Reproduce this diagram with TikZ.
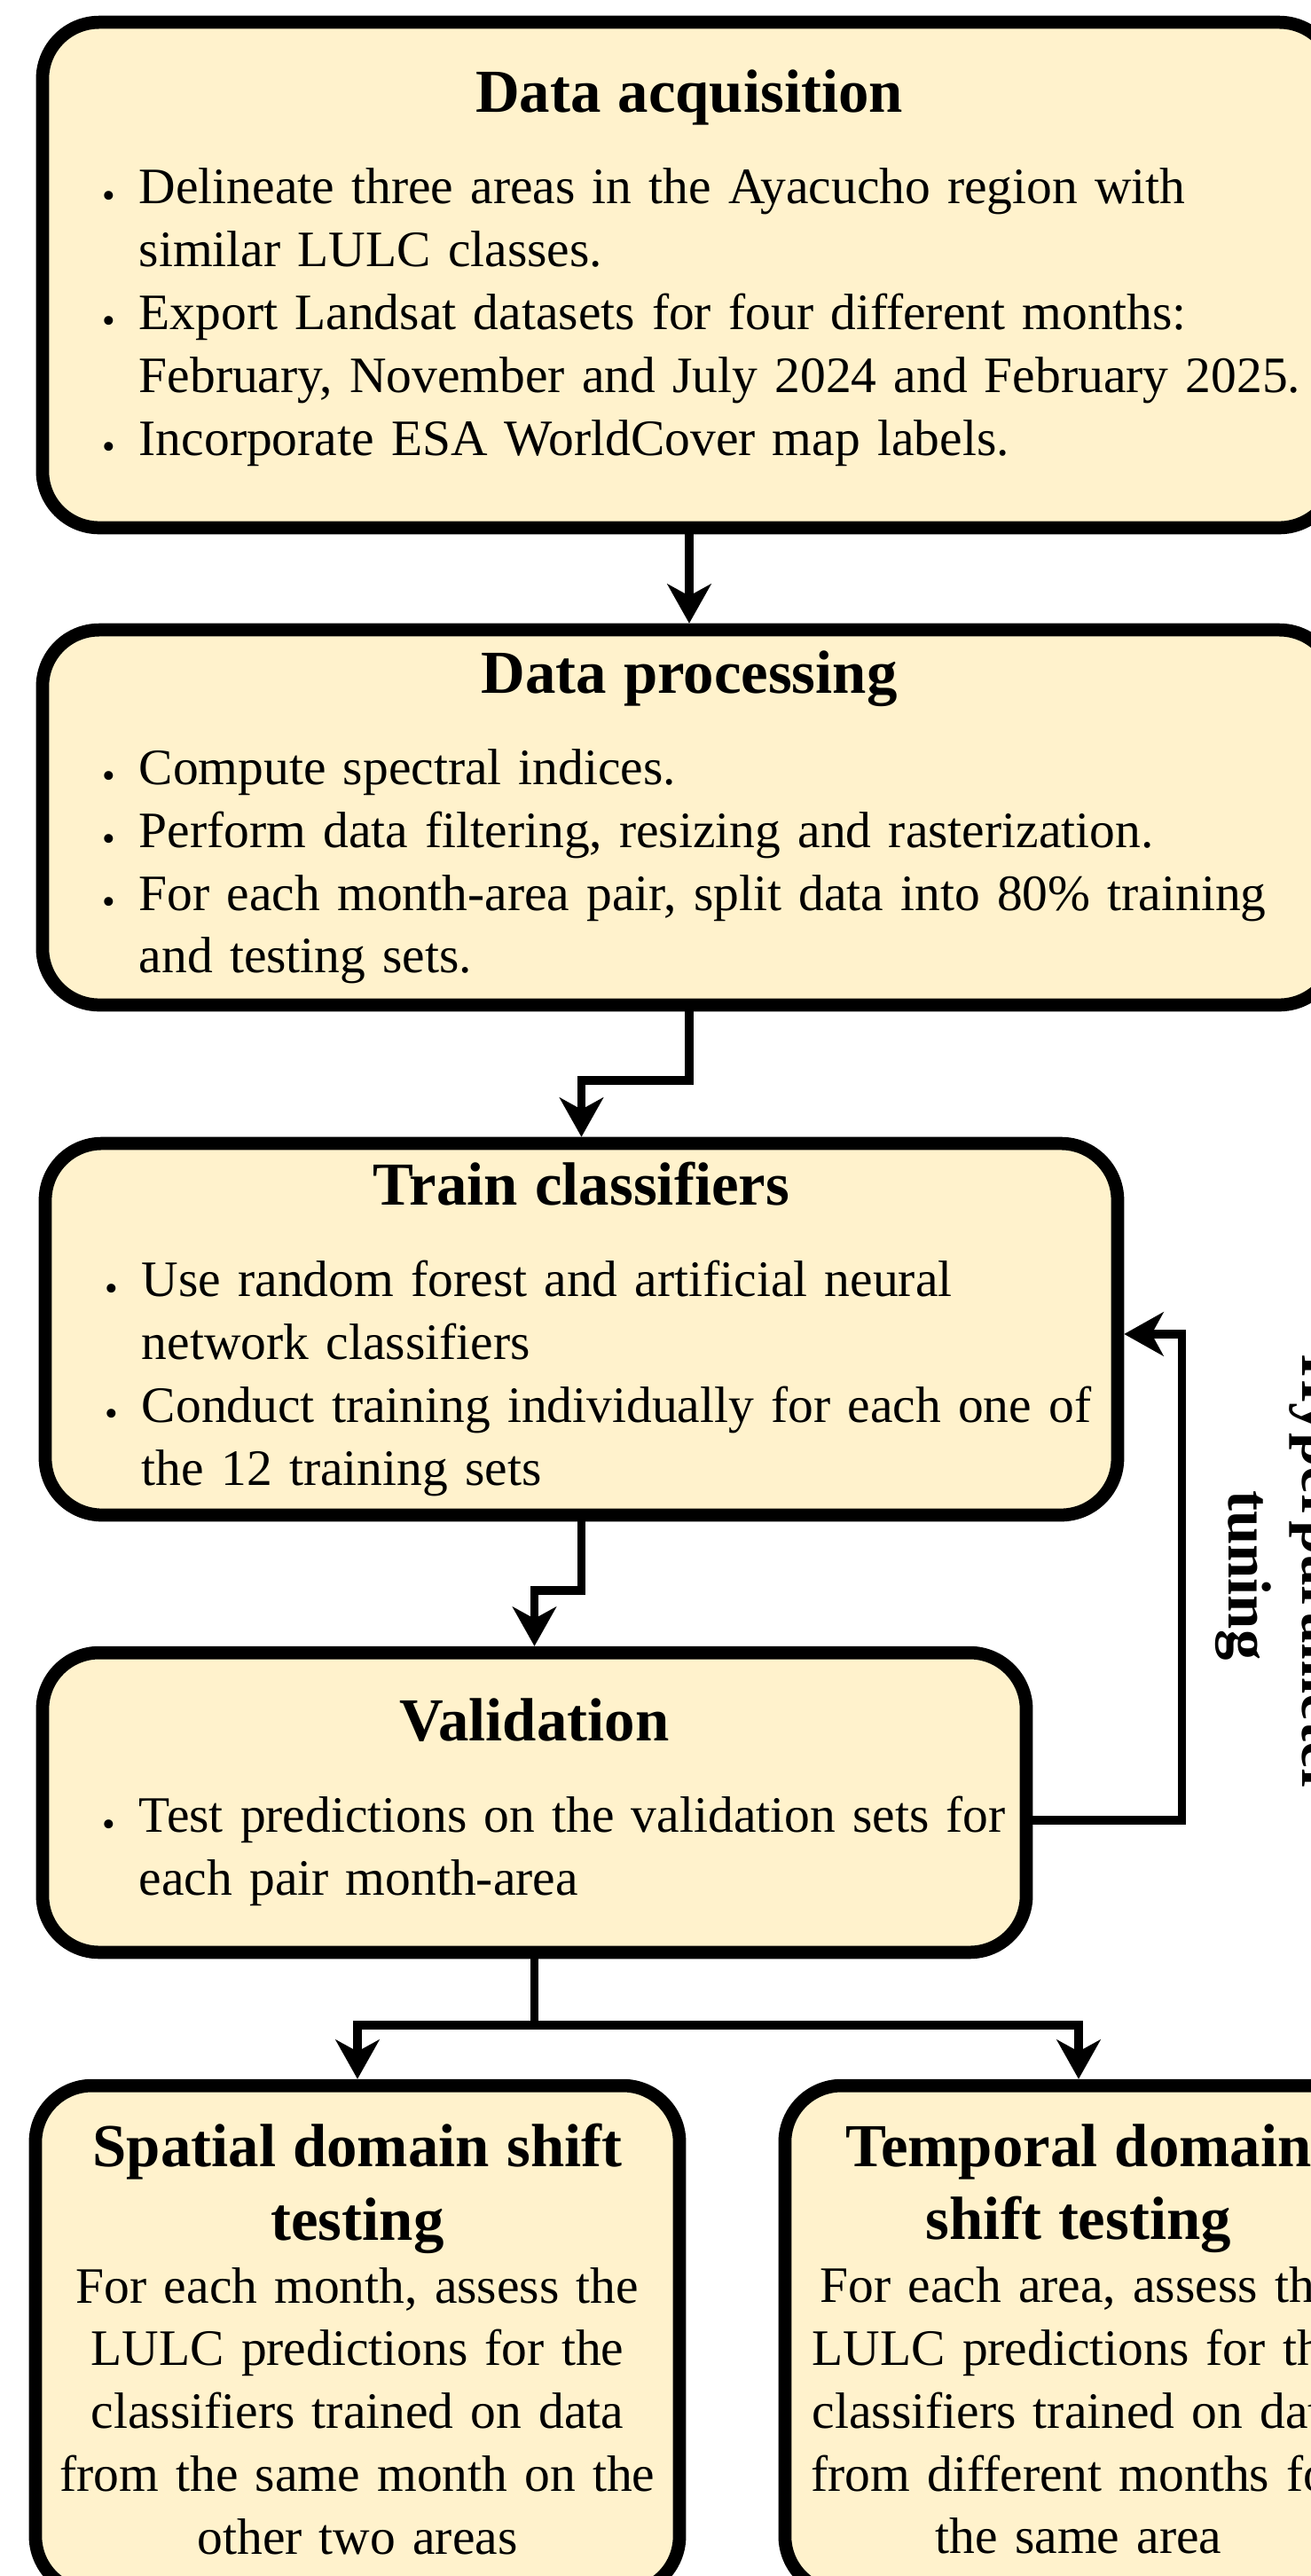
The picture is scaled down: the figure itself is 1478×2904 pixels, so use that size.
\documentclass[tikz,border=0pt]{standalone}
\usepackage{fontspec}
\setmainfont{Liberation Serif}
\usepackage{xcolor}
\usetikzlibrary{arrows.meta}

\setlength{\parindent}{0pt}
\definecolor{boxfill}{HTML}{FFF2CC}

% box title and bullet lines
\newcommand{\boxtitle}[1]{{\centering\fontsize{14}{16.8}\selectfont\bfseries #1\par}}
\newcommand{\bitem}[1]{\par\noindent\mbox{\makebox[8.95pt][l]{\hspace{0.6pt}\raisebox{-0.9pt}{\fontsize{8.5}{8.5}\selectfont\textbullet}}#1}}
\newcommand{\bcont}[1]{\par\noindent\mbox{\hspace*{8.95pt}#1}}
\newcommand{\padbottom}[1]{\par\vspace{#1}\nointerlineskip\hbox{}}

\begin{document}
\begin{tikzpicture}[x=0.2034pt,y=-0.2034pt,
    stage/.style={draw,line width=3pt,rounded corners=13pt,fill=boxfill,
        inner xsep=13.2pt,inner ysep=0pt,font=\fontsize{11.7}{14.4}\selectfont},
    conn/.style={line width=2pt,-{Stealth[length=9pt,width=10pt,inset=2.7pt]}}]
    \useasboundingbox (0,0) rectangle (1478,2904);

    % Draw the stages
    \node[stage,text width=270.2pt,minimum height=115.9pt] (acq) at (777,310) {%
        \boxtitle{Data acquisition}\vspace{6.55pt}
        \bitem{Delineate three areas in the Ayacucho region with}
        \bcont{similar LULC classes.}
        \bitem{Export Landsat datasets for four different months:}
        \bcont{February, November and July 2024 and February 2025.}
        \bitem{Incorporate ESA WorldCover map labels.}
        \padbottom{3.2pt}};

    \node[stage,text width=270.2pt,minimum height=86pt] (proc) at (777,921.5) {%
        \boxtitle{Data processing}\vspace{6.55pt}
        \bitem{Compute spectral indices.}
        \bitem{Perform data filtering, resizing and rasterization.}
        \bitem{For each month-area pair, split data into 80\% training}
        \bcont{and testing sets.}};

    \node[stage,text width=219.5pt,minimum height=85.2pt] (train) at (655.5,1498.5) {%
        \boxtitle{Train classifiers}\vspace{6.55pt}
        \bitem{Use random forest and artificial neural}
        \bcont{network classifiers}
        \bitem{Conduct training individually for each one of}
        \bcont{the 12 training sets}};

    \node[stage,text width=199.2pt,minimum height=68.7pt] (valid) at (602.5,2032) {%
        \boxtitle{Validation}\vspace{6.55pt}
        \bitem{Test predictions on the validation sets for}
        \bcont{each pair month-area}};

    \node[stage,inner xsep=2pt,text width=143.7pt,minimum height=116.3pt] (spatial) at (403,2637) {%
        \boxtitle{Spatial domain shift\\testing}
        {\centering For each month, assess the\\LULC predictions for the\\classifiers trained on data\\from the same month on the\\other two areas\par}};

    \node[stage,inner xsep=2pt,text width=130.7pt,minimum height=116.3pt] (temporal) at (1216,2637) {%
        \boxtitle{Temporal domain\\shift testing}
        {\centering For each area, assess the\\LULC predictions for the\\classifiers trained on data\\from different months for\\the same area\par}};

    % Feedback label
    \node[rotate=-90,align=center,font=\fontsize{14}{16.8}\selectfont\bfseries] (hyper) at (1442,1776) {Hyperparameter\\tuning};

    % Draw the arrows
    \draw[conn] (acq.south) -- (proc.north);
    \draw[conn] (proc.south) -- ++(0,78) -| (train.north);
    \draw[conn] (train.south) -- ++(0,78) -| (valid.north);
    \draw[line width=2pt] (valid.south) -- ++(0,75) coordinate (split);
    \draw[conn] (split) -| (spatial.north);
    \draw[conn] (split) -| (temporal.north);
    \draw[conn] ([yshift=-4pt]valid.east) -- ++(168,0) |- ([yshift=-1.1pt]train.east);
\end{tikzpicture}
\end{document}
